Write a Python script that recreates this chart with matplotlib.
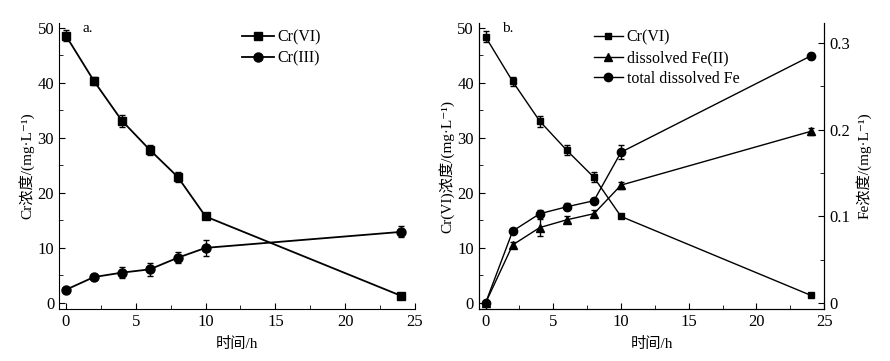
import matplotlib.pyplot as plt
from matplotlib.ticker import MultipleLocator
from matplotlib.lines import Line2D

plt.rcParams['font.family'] = ['Liberation Serif', 'Noto Sans CJK SC', 'DejaVu Sans']
plt.rcParams['font.size'] = 11
plt.rcParams['xtick.labelsize'] = 12
plt.rcParams['ytick.labelsize'] = 12

# time points
t = [0, 2, 4, 6, 8, 10, 24]

# panel a
cr6_a = [48.5, 40.3, 33.1, 27.8, 22.9, 15.7, 1.3]
cr6_a_err = [1.0, 0.8, 1.1, 0.9, 0.9, 0.3, 0.2]
cr3_a = [2.4, 4.7, 5.5, 6.1, 8.2, 10.0, 12.9]
cr3_a_err = [0.2, 0.3, 1.0, 1.2, 1.0, 1.5, 1.0]

# panel b
cr6_b = [48.3, 40.2, 33.0, 27.7, 22.8, 15.7, 1.4]
cr6_b_err = [1.0, 0.8, 1.0, 0.9, 0.9, 0.3, 0.2]
fe2 = [0.0, 0.067, 0.087, 0.096, 0.103, 0.136, 0.198]
fe2_err = [0.002, 0.003, 0.010, 0.004, 0.004, 0.004, 0.004]
fe_tot = [0.0, 0.083, 0.103, 0.111, 0.118, 0.174, 0.285]
fe_tot_err = [0.002, 0.002, 0.004, 0.004, 0.003, 0.008, 0.003]

fig = plt.figure(figsize=(8.9, 3.61), dpi=100)
ax1 = fig.add_axes([0.0663, 0.144, 0.400, 0.792])
ax2 = fig.add_axes([0.538, 0.144, 0.388, 0.792])

eb = dict(color='black', capsize=2.5, elinewidth=1, capthick=1)


def style(ax):
    ax.tick_params(which='both', direction='in')
    ax.tick_params(which='major', length=4)
    ax.tick_params(which='minor', length=3)


def handle(marker, ms, lw):
    return Line2D([], [], color='black', marker=marker, ms=ms, lw=lw)


# ---- a ----
ax1.errorbar(t, cr6_a, yerr=cr6_a_err, marker='s', ms=5.5, lw=1.3, **eb)
ax1.errorbar(t, cr3_a, yerr=cr3_a_err, marker='o', ms=6.5, lw=1.3, **eb)
ax1.set_xlim(-0.5, 25)
ax1.set_ylim(-1.1, 50.8)
ax1.spines['top'].set_visible(False)
ax1.spines['right'].set_visible(False)
ax1.xaxis.set_major_locator(MultipleLocator(5))
ax1.xaxis.set_minor_locator(MultipleLocator(2.5))
ax1.yaxis.set_major_locator(MultipleLocator(10))
ax1.yaxis.set_minor_locator(MultipleLocator(5))
style(ax1)
ax1.set_xlabel('时间/h', labelpad=5)
ax1.set_ylabel('Cr浓度/(mg·L⁻¹)', labelpad=2)
ax1.text(1.2, 49.2, 'a.')
ax1.legend([handle('s', 5.5, 1.3), handle('o', 6.5, 1.3)], ['Cr(VI)', 'Cr(III)'],
           loc='upper left', bbox_to_anchor=(0.495, 1.0), frameon=False,
           handlelength=2.0, handletextpad=0.25, borderaxespad=0, labelspacing=0.3,
           fontsize=11.5)

# ---- b ----
ax3 = ax2.twinx()
ax2.errorbar(t, cr6_b, yerr=cr6_b_err, marker='s', ms=5, lw=1.0, **eb)
ax3.errorbar(t, fe2, yerr=fe2_err, marker='^', ms=6, lw=1.0, **eb)
ax3.errorbar(t, fe_tot, yerr=fe_tot_err, marker='o', ms=6, lw=1.0, **eb)
ax2.set_xlim(-0.5, 25)
ax2.set_ylim(-1.1, 50.8)
ax3.set_ylim(-0.007, 0.323)
for a in (ax2, ax3):
    a.spines['top'].set_visible(False)
ax2.xaxis.set_major_locator(MultipleLocator(5))
ax2.xaxis.set_minor_locator(MultipleLocator(2.5))
ax2.yaxis.set_major_locator(MultipleLocator(10))
ax2.yaxis.set_minor_locator(MultipleLocator(5))
ax3.yaxis.set_major_locator(MultipleLocator(0.1))
ax3.yaxis.set_minor_locator(MultipleLocator(0.05))
ax3.yaxis.set_major_formatter(plt.FuncFormatter(lambda v, p: '0' if abs(v) < 1e-9 else f'{v:.1f}'))
style(ax2)
style(ax3)
ax2.set_xlabel('时间/h', labelpad=5)
ax2.set_ylabel('Cr(VI)浓度/(mg·L⁻¹)', labelpad=2)
ax3.set_ylabel('Fe浓度/(mg·L⁻¹)', labelpad=4)
ax2.text(1.2, 49.2, 'b.')
ax3.legend([handle('s', 5, 1.0), handle('^', 6, 1.0), handle('o', 6, 1.0)],
           ['Cr(VI)', 'dissolved Fe(II)', 'total dissolved Fe'],
           loc='upper left', bbox_to_anchor=(0.315, 1.0), frameon=False,
           handlelength=1.8, handletextpad=0.25, borderaxespad=0, labelspacing=0.3,
           fontsize=11.5)

fig.savefig('out.png', dpi=100)
